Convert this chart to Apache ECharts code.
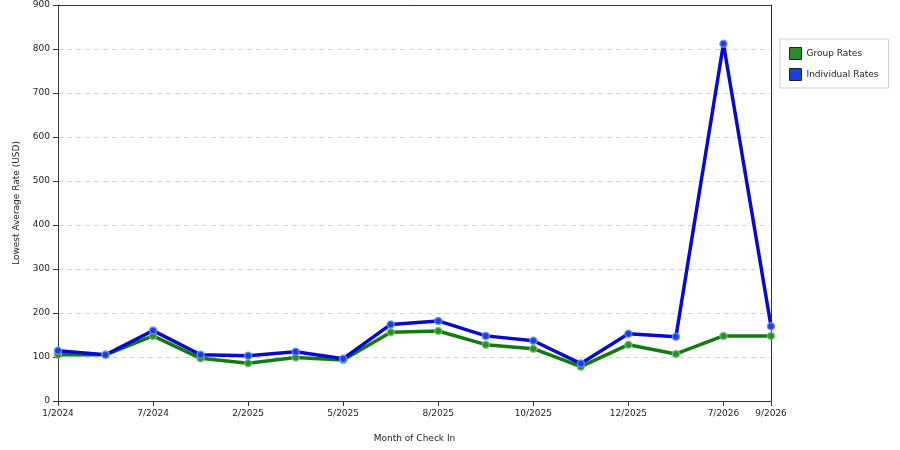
<!DOCTYPE html>
<html>
<head>
<meta charset="utf-8">
<script src="https://cdn.jsdelivr.net/npm/echarts@6/dist/echarts.min.js"></script>
<style>
  html, body { margin: 0; padding: 0; background: #fff; }
  #main { width: 900px; height: 450px; }
</style>
</head>
<body>
<div id="main"></div>
<script>
// months of check in (only some labels are printed on the axis)
var months = ['1/2024', '4/2024', '7/2024', '10/2024', '2/2025', '4/2025', '5/2025', '7/2025',
  '8/2025', '9/2025', '10/2025', '11/2025', '12/2025', '3/2026', '7/2026', '9/2026'];
var groupRates = [105, 105, 148, 97, 86, 99, 93, 156, 159, 128, 119, 78, 128, 107, 148, 148];
var individualRates = [114, 105, 160, 105, 103, 112, 96, 174, 182, 148, 137, 85, 153, 146, 812, 170];
var yTicks = [0, 100, 200, 300, 400, 500, 600, 700, 800, 900];

var chart = echarts.init(document.getElementById('main'));
var font = 'DejaVu Sans';

// show every other month plus the last one
function showLabel(i) {
  return i % 2 === 0 || i === months.length - 1;
}

// top and right axes only draw the frame of the plot
var frameAxis = {
  show: true,
  axisLine: { show: true, onZero: false, lineStyle: { color: '#333' } },
  axisTick: { show: false },
  axisLabel: { show: false },
  splitLine: { show: false }
};

var option = {
  animation: false,
  backgroundColor: '#fff',
  textStyle: { fontFamily: font },
  grid: {
    left: 58, top: 5, right: 129, bottom: 49
  },
  legend: {
    orient: 'vertical',
    left: 780, top: 39,
    padding: [8, 10, 7, 9],
    itemGap: 8,
    itemWidth: 12, itemHeight: 12,
    icon: 'rect',
    borderColor: '#ccc', borderWidth: 1,
    itemStyle: { borderColor: '#222', borderWidth: 1 },
    textStyle: { fontSize: 9, color: '#222', fontFamily: font },
    data: ['Group Rates', 'Individual Rates']
  },
  xAxis: [{
    type: 'category',
    data: months,
    boundaryGap: false,
    name: 'Month of Check In',
    nameLocation: 'middle',
    nameGap: 33,
    nameTextStyle: { fontSize: 9, color: '#222', fontFamily: font },
    axisLine: { lineStyle: { color: '#333' } },
    axisTick: { length: 5, interval: showLabel, lineStyle: { color: '#333' } },
    axisLabel: {
      interval: showLabel, fontSize: 9, color: '#222', margin: 8, fontFamily: font
    },
    splitLine: { show: false }
  }, Object.assign({ type: 'category', data: months, boundaryGap: false, position: 'top' }, frameAxis)],
  yAxis: [{
    type: 'value',
    min: yTicks[0], max: yTicks[yTicks.length - 1], interval: 100,
    name: 'Lowest Average Rate (USD)',
    nameLocation: 'middle',
    nameGap: 37,
    nameTextStyle: { fontSize: 9, color: '#222', fontFamily: font },
    axisLine: { show: true, lineStyle: { color: '#333' } },
    axisTick: { show: true, length: 5, lineStyle: { color: '#333' } },
    axisLabel: { fontSize: 9, color: '#222', margin: 8, fontFamily: font },
    splitLine: { show: true, lineStyle: { color: '#d4d4d4', type: [5, 4] } }
  }, Object.assign({
    type: 'value', position: 'right',
    min: yTicks[0], max: yTicks[yTicks.length - 1], interval: 100
  }, frameAxis)],
  series: [{
    name: 'Group Rates',
    type: 'line',
    data: groupRates,
    symbol: 'circle',
    symbolSize: 7,
    color: '#137a13',
    lineStyle: { width: 3.5, color: '#137a13' },
    itemStyle: { color: '#2a8c2a', borderColor: 'rgba(120,190,120,0.8)', borderWidth: 1.5 }
  }, {
    name: 'Individual Rates',
    type: 'line',
    data: individualRates,
    symbol: 'circle',
    symbolSize: 7,
    color: '#0000d0',
    lineStyle: { width: 3.5, color: '#0a0acc' },
    itemStyle: { color: '#1a3fe0', borderColor: 'rgba(110,140,240,0.85)', borderWidth: 1.5 }
  }]
};
chart.setOption(option);
</script>
</body>
</html>
